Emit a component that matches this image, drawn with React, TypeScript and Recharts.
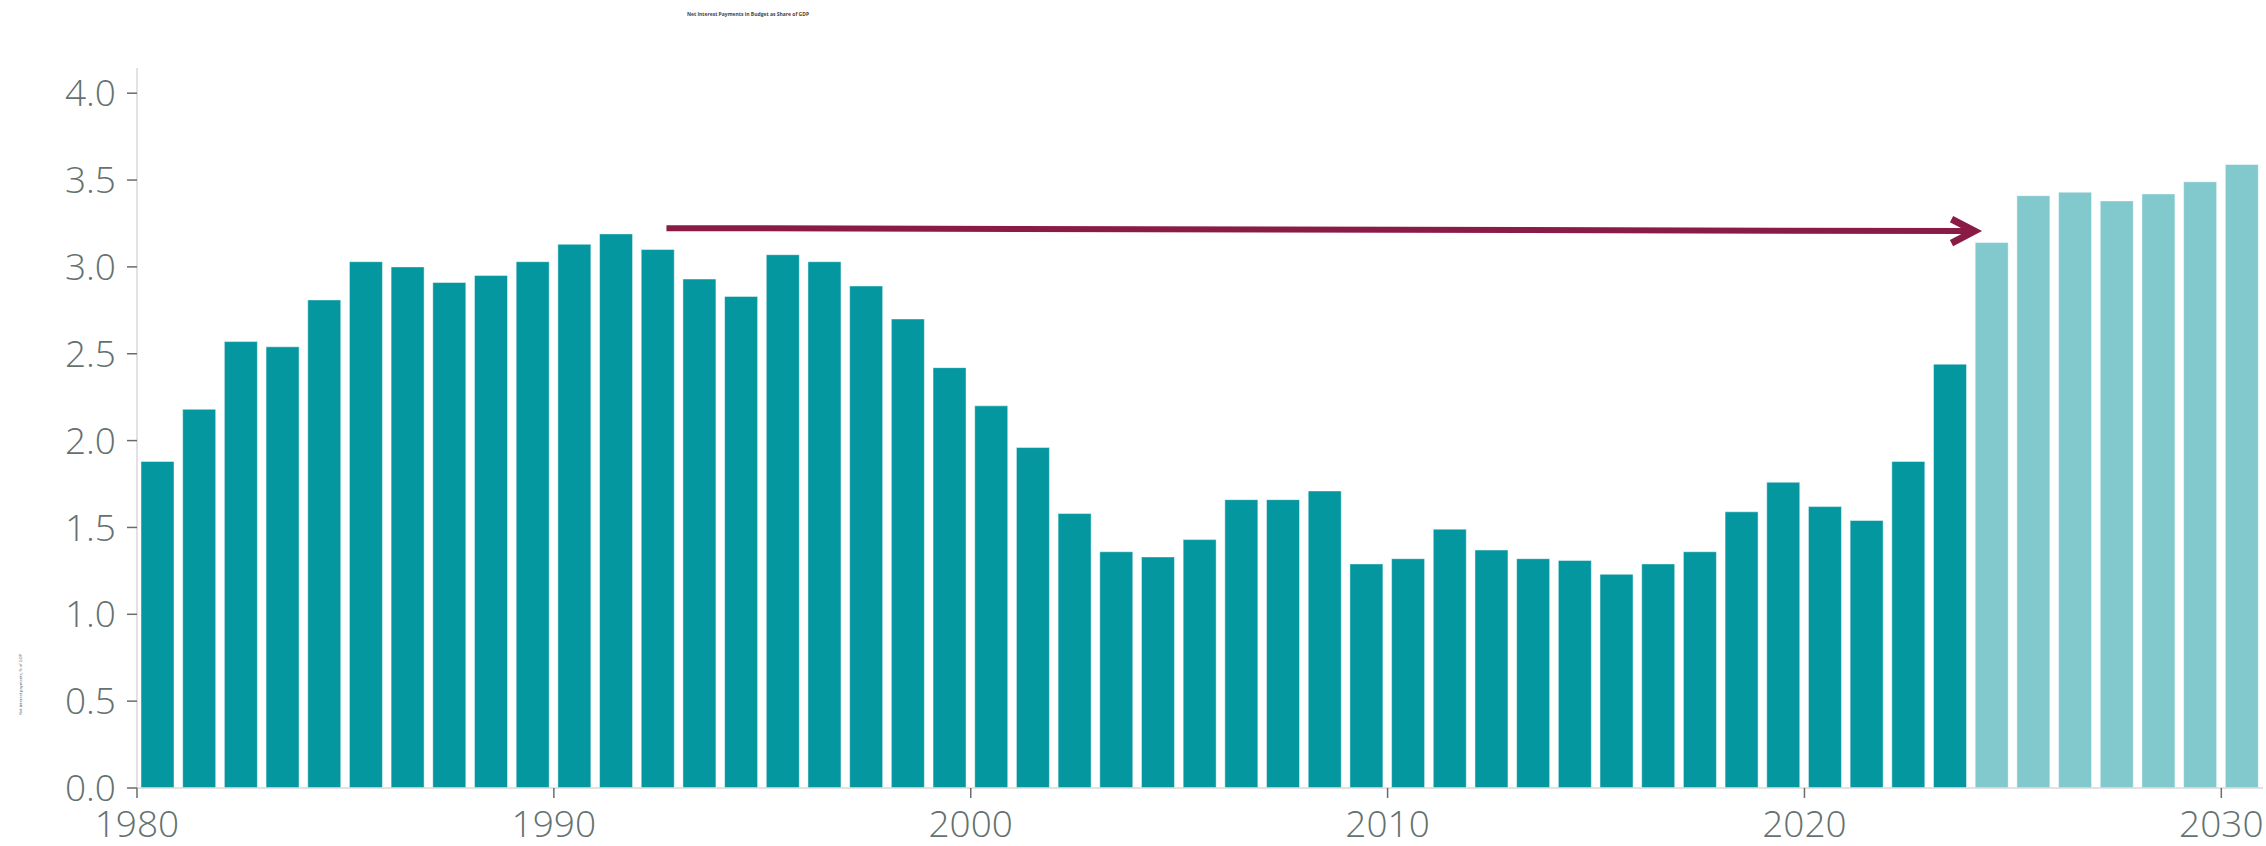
import { BarChart, Bar, Cell, XAxis, YAxis, ReferenceLine } from 'recharts'

// net interest payments, share of GDP (percent)
const actualYears = [
  1980, 1981, 1982, 1983, 1984, 1985, 1986, 1987, 1988, 1989,
  1990, 1991, 1992, 1993, 1994, 1995, 1996, 1997, 1998, 1999,
  2000, 2001, 2002, 2003, 2004, 2005, 2006, 2007, 2008, 2009,
  2010, 2011, 2012, 2013, 2014, 2015, 2016, 2017, 2018, 2019,
  2020, 2021, 2022, 2023,
]
const actualValues = [
  1.88, 2.18, 2.57, 2.54, 2.81, 3.03, 3.0, 2.91, 2.95, 3.03,
  3.13, 3.19, 3.1, 2.93, 2.83, 3.07, 3.03, 2.89, 2.7, 2.42,
  2.2, 1.96, 1.58, 1.36, 1.33, 1.43, 1.66, 1.66, 1.71, 1.29,
  1.32, 1.49, 1.37, 1.32, 1.31, 1.23, 1.29, 1.36, 1.59, 1.76,
  1.62, 1.54, 1.88, 2.44,
]
const projectedYears = [2024, 2025, 2026, 2027, 2028, 2029, 2030]
const projectedValues = [3.14, 3.41, 3.43, 3.38, 3.42, 3.49, 3.59]

const xTicks = [1980, 1990, 2000, 2010, 2020, 2030]
const yTicks = [0, 0.5, 1.0, 1.5, 2.0, 2.5, 3.0, 3.5, 4.0]

// arrow annotation endpoints (year, value)
const arrowStart = { x: 1992.7, y: 3.223 }
const arrowEnd = { x: 2024.08, y: 3.206 }

const DARK = '#05979f'
const LIGHT = '#82c9ce'
const ARROW = '#8a1b45'
const TEXT = '#647170'

const data = [
  ...actualYears.map((year, i) => ({ year, mid: year + 0.5, value: actualValues[i], projected: false })),
  ...projectedYears.map((year, i) => ({ year, mid: year + 0.5, value: projectedValues[i], projected: true })),
]

const Arrow = (props: any) => {
  const { x1, y1, x2, y2 } = props
  const ang = Math.atan2(y2 - y1, x2 - x1)
  const back = 23
  const spread = 12
  const bx = x2 - back * Math.cos(ang)
  const by = y2 - back * Math.sin(ang)
  const px = -Math.sin(ang) * spread
  const py = Math.cos(ang) * spread
  return (
    <g>
      <line x1={x1} y1={y1} x2={x2 - 4 * Math.cos(ang)} y2={y2 - 4 * Math.sin(ang)} stroke={ARROW} strokeWidth={6} />
      <polyline
        points={`${bx + px},${by + py} ${x2},${y2} ${bx - px},${by - py}`}
        fill="none"
        stroke={ARROW}
        strokeWidth={7}
        strokeLinejoin="miter"
      />
    </g>
  )
}

export default function App() {
  const tickStyle = {
    fill: TEXT,
    fontSize: 37,
    fontFamily: '"Open Sans", sans-serif',
    fontWeight: 300,
  }
  return (
    <div
      style={{
        position: 'absolute',
        left: 0,
        top: 0,
        width: 2266,
        height: 846,
        background: '#fff',
        overflow: 'hidden',
      }}
    >
      <div
        style={{
          position: 'absolute',
          left: 648,
          top: 11,
          width: 200,
          textAlign: 'center',
          fontFamily: '"Open Sans", sans-serif',
          fontSize: 5,
          fontWeight: 700,
          color: '#444',
        }}
      >
        Net Interest Payments in Budget as Share of GDP
      </div>
      <div
        style={{
          position: 'absolute',
          left: -20,
          top: 682,
          width: 80,
          textAlign: 'center',
          transform: 'rotate(-90deg)',
          fontFamily: '"Open Sans", sans-serif',
          fontSize: 4,
          color: '#555',
        }}
      >
        Net interest payments, % of GDP
      </div>
      <BarChart
        width={2266}
        height={846}
        data={data}
        margin={{ top: 68, right: 3, left: 0, bottom: 0 }}
      >
        <XAxis
          type="number"
          dataKey="mid"
          domain={[1980, 2031]}
          ticks={xTicks}
          allowDataOverflow
          height={58}
          tick={tickStyle}
          tickSize={10}
          tickMargin={13}
          axisLine={{ stroke: '#d9d9d9', strokeWidth: 1.5 }}
          tickLine={{ stroke: '#6b6b6b', strokeWidth: 1.5 }}
        />
        <YAxis
          type="number"
          domain={[0, 4.145]}
          ticks={yTicks}
          allowDataOverflow
          width={137}
          tick={tickStyle}
          tickFormatter={(v: number) => v.toFixed(1)}
          tickSize={10}
          tickMargin={11}
          axisLine={{ stroke: '#d9d9d9', strokeWidth: 1.5 }}
          tickLine={{ stroke: '#6b6b6b', strokeWidth: 1.5 }}
        />
        <Bar
          dataKey="value"
          barSize={33}
          stroke="rgba(255,255,255,0.45)"
          strokeWidth={1}
          isAnimationActive={false}
        >
          {data.map((d) => (
            <Cell key={d.year} fill={d.projected ? LIGHT : DARK} />
          ))}
        </Bar>
        <ReferenceLine
          segment={[arrowStart, arrowEnd]}
          stroke={ARROW}
          shape={Arrow}
          ifOverflow="visible"
        />
      </BarChart>
    </div>
  )
}
